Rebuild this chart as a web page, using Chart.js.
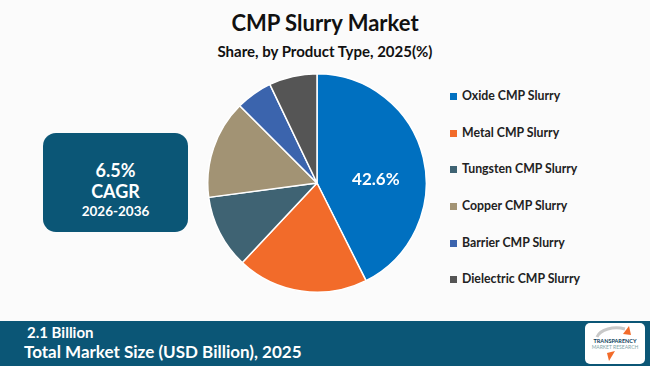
<!DOCTYPE html>
<html>
<head>
<meta charset="utf-8">
<script src="https://cdn.jsdelivr.net/npm/chart.js@4.4.1/dist/chart.umd.min.js"></script>
<style>
  html, body { margin: 0; padding: 0; }
  body { width: 650px; height: 366px; background: #fbfbfb; position: relative; overflow: hidden; font-family: Lato, "Open Sans", sans-serif; }
  #title { position: absolute; top: 9px; left: 0; width: 650px; text-align: center; font-weight: 700; font-size: 22px; color: #111; }
  #subtitle { position: absolute; top: 42px; left: 0; width: 650px; text-align: center; font-weight: 700; font-size: 15px; color: #111; }
  #pie-wrap { position: absolute; left: 207px; top: 73px; width: 220px; height: 220px; }
  #legend { position: absolute; left: 450px; top: 88px; }
  .lg-item { height: 36.7px; display: flex; align-items: flex-start; font-weight: 700; font-size: 12.3px; color: #222; }
  .lg-box { width: 7px; height: 7px; margin: 5px 5px 0 0; }
  #cagr { position: absolute; left: 43px; top: 133px; width: 145px; height: 99px; background: #0b5676; border-radius: 13px; color: #fff; text-align: center; font-weight: 700; }
  #cagr .v { font-size: 18px; margin-top: 27px; line-height: 20px; }
  #cagr .c { font-size: 18px; line-height: 22px; }
  #cagr .y { font-size: 13.5px; line-height: 18px; }
  #footer { position: absolute; left: 0; top: 321px; width: 650px; height: 45px; background: #0b5676; color: #fff; }
  #footer .a { position: absolute; left: 27px; top: 2px; font-size: 15px; font-weight: 700; }
  #footer .b { position: absolute; left: 24px; top: 20px; font-size: 17px; font-weight: 700; }
  #logo { position: absolute; left: 585px; top: 2px; width: 60px; height: 41px; background: #fff; border-radius: 5px; text-align: center; font-weight: 700; overflow: hidden; }
  #logo svg { position: absolute; left: 0; top: 0; }
  #logo .t1 { position: absolute; top: 15px; width: 60px; font-size: 5.5px; color: #0b3d5a; }
  #logo .t2 { position: absolute; top: 21px; width: 60px; font-size: 5px; color: #7fa5a8; font-weight: 400; }
</style>
</head>
<body>
<div id="title">CMP Slurry Market</div>
<div id="subtitle">Share, by Product Type, 2025(%)</div>
<div id="cagr"><div class="v">6.5%</div><div class="c">CAGR</div><div class="y">2026-2036</div></div>
<div id="pie-wrap"><canvas id="pie"></canvas></div>
<div id="legend"></div>
<div id="footer">
  <div class="a">2.1 Billion</div>
  <div class="b">Total Market Size (USD Billion), 2025</div>
  <div id="logo">
    <svg width="60" height="41" viewBox="0 0 60 41">
      <path d="M12 14 A20 12 0 0 1 40 6" stroke="#c8c8c8" stroke-width="3" fill="none"/>
      <path d="M38 11 L44 3 L46 12" fill="#f26b2a"/>
      <path d="M30 28 L24 38 L22 30" fill="#f26b2a"/>
    </svg>
    <div class="t1">TRANSPARENCY</div>
    <div class="t2">MARKET RESEARCH</div>
  </div>
</div>
<script>
// CMP slurry share by product type, 2025 (%)
const productTypes = ['Oxide CMP Slurry', 'Metal CMP Slurry', 'Tungsten CMP Slurry',
                      'Copper CMP Slurry', 'Barrier CMP Slurry', 'Dielectric CMP Slurry'];
const shareValues  = [42.6, 19.4, 10.9, 14.6, 5.4, 7.1];
const sliceColors  = ['#0070c0', '#f26b2a', '#3f6373', '#a29374', '#3b64ad', '#555555'];
const shownLabels  = ['42.6%', '', '', '', '', ''];

// legend (html, same order as slices)
const legendEl = document.getElementById('legend');
productTypes.forEach((name, i) => {
  const row = document.createElement('div');
  row.className = 'lg-item';
  row.innerHTML = '<div class="lg-box" style="background:' + sliceColors[i] + '"></div>' + name;
  legendEl.appendChild(row);
});

// draws the percentage inside the big slice
const sliceLabels = {
  id: 'sliceLabels',
  afterDatasetsDraw(chart) {
    const ctx = chart.ctx;
    const meta = chart.getDatasetMeta(0);
    meta.data.forEach((arc, i) => {
      if (!shownLabels[i]) return;
      const mid = (arc.startAngle + arc.endAngle) / 2 + 0.17;
      const r = arc.outerRadius * 0.54;
      ctx.save();
      ctx.fillStyle = '#ffffff';
      ctx.font = 'bold 17px Lato, "Open Sans", sans-serif';
      ctx.textAlign = 'center';
      ctx.textBaseline = 'middle';
      ctx.fillText(shownLabels[i], arc.x + Math.cos(mid) * r, arc.y + Math.sin(mid) * r);
      ctx.restore();
    });
  }
};

new Chart(document.getElementById('pie'), {
  type: 'pie',
  data: {
    labels: productTypes,
    datasets: [{
      data: shareValues,
      backgroundColor: sliceColors,
      borderColor: '#ffffff',
      borderWidth: 1.5
    }]
  },
  options: {
    responsive: true,
    maintainAspectRatio: true,
    animation: false,
    layout: { padding: 0 },
    plugins: { legend: { display: false }, tooltip: { enabled: false } }
  },
  plugins: [sliceLabels]
});
</script>
</body>
</html>
